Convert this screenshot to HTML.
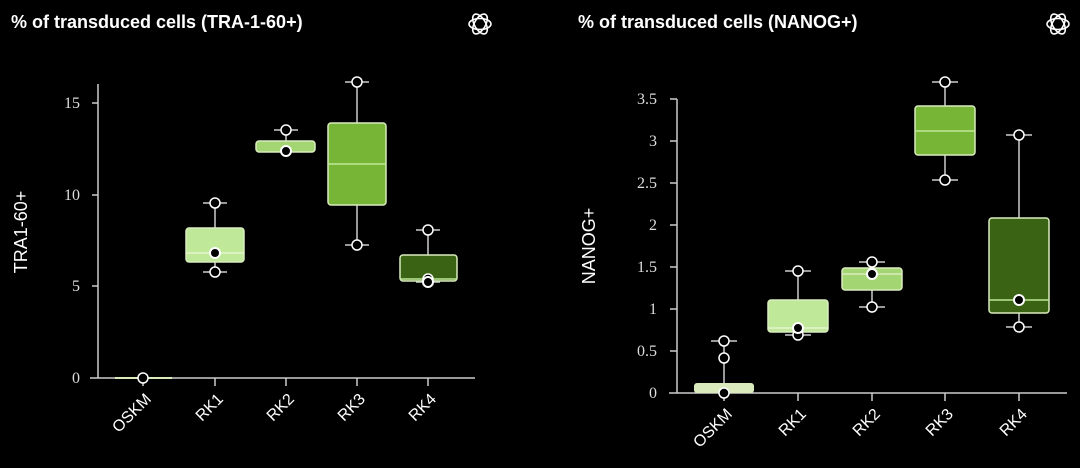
<!DOCTYPE html>
<html><head><meta charset="utf-8"><style>
html,body{margin:0;padding:0;background:#000;}
svg{display:block}
.t{font-family:"Liberation Sans",sans-serif;font-weight:bold;font-size:18px;fill:#fff}
.tk{font-family:"Liberation Serif",serif;font-size:16px;fill:#ddd}
.xl{font-family:"Liberation Sans",sans-serif;font-size:16px;fill:#fff}
.yl{font-family:"Liberation Sans",sans-serif;font-size:18px;fill:#fff}
.ax{stroke:#ccc;stroke-width:1.5;fill:none}
.w{stroke:#ccc;stroke-width:1.5;fill:none}
.bx{stroke:#d9ecbf;stroke-width:1.5}
.oc{fill:#000;stroke:#fff;stroke-width:1.5}
.fc{fill:#000;stroke:#fff;stroke-width:2}
</style></head><body>
<svg width="1080" height="468" viewBox="0 0 1080 468">
<defs>
<g id="logo" fill="none" stroke="#fff" stroke-width="1.6">
<ellipse cx="0" cy="0" rx="11" ry="5.5"/>
<ellipse cx="0" cy="0" rx="11" ry="5.5" transform="rotate(60)"/>
<ellipse cx="0" cy="0" rx="11" ry="5.5" transform="rotate(120)"/>
</g>
</defs>
<!-- LEFT -->
<text class="t" x="11" y="28">% of transduced cells (TRA-1-60+)</text>
<use href="#logo" x="480" y="24"/>
<path class="ax" d="M98 84 V378 M90 378 H475"/>
<path class="ax" d="M92 103 H98 M92 195 H98 M92 286 H98 M143 378 V386 M215 378 V386 M286 378 V386 M357 378 V386 M428 378 V386"/>
<text class="tk" x="80" y="108" text-anchor="end">15</text>
<text class="tk" x="80" y="200" text-anchor="end">10</text>
<text class="tk" x="80" y="291" text-anchor="end">5</text>
<text class="tk" x="80" y="383" text-anchor="end">0</text>
<text class="yl" transform="translate(27,232) rotate(-90)" text-anchor="middle">TRA1-60+</text>
<g class="xl" text-anchor="end">
<text transform="translate(152,400) rotate(-45)">OSKM</text>
<text transform="translate(224,400) rotate(-45)">RK1</text>
<text transform="translate(295,400) rotate(-45)">RK2</text>
<text transform="translate(366,400) rotate(-45)">RK3</text>
<text transform="translate(437,400) rotate(-45)">RK4</text>
</g>
<line x1="115" y1="378" x2="172" y2="378" stroke="#d9ebbd" stroke-width="2"/>
<circle class="oc" cx="143" cy="378" r="5"/>
<path class="w" d="M215 203 V228 M215 262 V272 M203 203 H227 M203 272 H227"/>
<rect class="bx" x="186" y="228" width="58" height="34" rx="3" fill="#c0e899"/>
<line x1="186" y1="253" x2="244" y2="253" stroke="#e4f4cf" stroke-width="1.5"/>
<circle class="oc" cx="215" cy="203" r="5"/><circle class="oc" cx="215" cy="272" r="5"/>
<circle class="fc" cx="215" cy="253" r="5"/>
<path class="w" d="M286 130 V141 M274 130 H298"/>
<rect class="bx" x="256" y="141" width="59" height="11" rx="3" fill="#a3d673"/>
<circle class="oc" cx="286" cy="130" r="5"/>
<circle class="fc" cx="286" cy="151" r="5"/>
<path class="w" d="M357 82 V123 M357 205 V245 M345 82 H369 M345 245 H369"/>
<rect class="bx" x="328" y="123" width="58" height="82" rx="3" fill="#76b536"/>
<line x1="328" y1="164" x2="386" y2="164" stroke="#c0e899" stroke-width="1.5"/>
<circle class="oc" cx="357" cy="82" r="5"/><circle class="oc" cx="357" cy="245" r="5"/>
<path class="w" d="M428 230 V255 M416 230 H440 M416 282 H440"/>
<rect class="bx" x="400" y="255" width="57" height="26" rx="3" fill="#3a6314"/>
<line x1="400" y1="279" x2="457" y2="279" stroke="#c0e899" stroke-width="1.5"/>
<circle class="oc" cx="428" cy="230" r="5"/><circle class="oc" cx="428" cy="279" r="5"/>
<circle class="fc" cx="428" cy="282" r="5"/>

<!-- RIGHT -->
<text class="t" x="578" y="28">% of transduced cells (NANOG+)</text>
<use href="#logo" x="1058" y="24"/>
<path class="ax" d="M677 99 V393 M669 393 H1067"/>
<path class="ax" d="M670 99 H677 M670 141 H677 M670 183 H677 M670 225 H677 M670 267 H677 M670 309 H677 M670 351 H677 M724 393 V401 M798 393 V401 M872 393 V401 M945 393 V401 M1019 393 V401"/>
<g class="tk" text-anchor="end">
<text x="657" y="104">3.5</text><text x="657" y="146">3</text><text x="657" y="188">2.5</text>
<text x="657" y="230">2</text><text x="657" y="272">1.5</text><text x="657" y="314">1</text>
<text x="657" y="356">0.5</text><text x="657" y="398">0</text>
</g>
<text class="yl" transform="translate(595,246) rotate(-90)" text-anchor="middle">NANOG+</text>
<g class="xl" text-anchor="end">
<text transform="translate(733,415) rotate(-45)">OSKM</text>
<text transform="translate(807,415) rotate(-45)">RK1</text>
<text transform="translate(881,415) rotate(-45)">RK2</text>
<text transform="translate(954,415) rotate(-45)">RK3</text>
<text transform="translate(1028,415) rotate(-45)">RK4</text>
</g>
<path class="w" d="M724 341 V383 M711 341 H737"/>
<rect x="694" y="383" width="60" height="10" rx="3" fill="#d9ebbd"/>
<circle class="oc" cx="724" cy="341" r="5"/><circle class="oc" cx="724" cy="358" r="5"/><circle class="oc" cx="724" cy="393" r="5"/>
<path class="w" d="M798 271 V300 M785 271 H811 M785 335 H811"/>
<rect class="bx" x="768" y="300" width="60" height="32" rx="3" fill="#c0e899"/>
<line x1="768" y1="328" x2="828" y2="328" stroke="#e4f4cf" stroke-width="1.5"/>
<circle class="oc" cx="798" cy="271" r="5"/><circle class="oc" cx="798" cy="335" r="5"/>
<circle class="fc" cx="798" cy="328" r="5"/>
<path class="w" d="M872 262 V268 M872 290 V307 M859 262 H885 M859 307 H885"/>
<rect class="bx" x="842" y="268" width="60" height="22" rx="3" fill="#a3d673"/>
<line x1="842" y1="274" x2="902" y2="274" stroke="#d9ecbf" stroke-width="1.5"/>
<circle class="oc" cx="872" cy="262" r="5"/><circle class="oc" cx="872" cy="307" r="5"/>
<circle class="fc" cx="872" cy="274" r="5"/>
<path class="w" d="M945 82 V106 M945 155 V180 M932 82 H958 M932 180 H958"/>
<rect class="bx" x="915" y="106" width="60" height="49" rx="3" fill="#76b536"/>
<line x1="915" y1="131" x2="975" y2="131" stroke="#c0e899" stroke-width="1.5"/>
<circle class="oc" cx="945" cy="82" r="5"/><circle class="oc" cx="945" cy="180" r="5"/>
<path class="w" d="M1019 135 V218 M1019 313 V327 M1006 135 H1032 M1006 327 H1032"/>
<rect class="bx" x="989" y="218" width="60" height="95" rx="3" fill="#3a6314"/>
<line x1="989" y1="300" x2="1049" y2="300" stroke="#c0e899" stroke-width="1.5"/>
<circle class="oc" cx="1019" cy="135" r="5"/><circle class="oc" cx="1019" cy="327" r="5"/>
<circle class="fc" cx="1019" cy="300" r="5"/>
</svg>
</body></html>
